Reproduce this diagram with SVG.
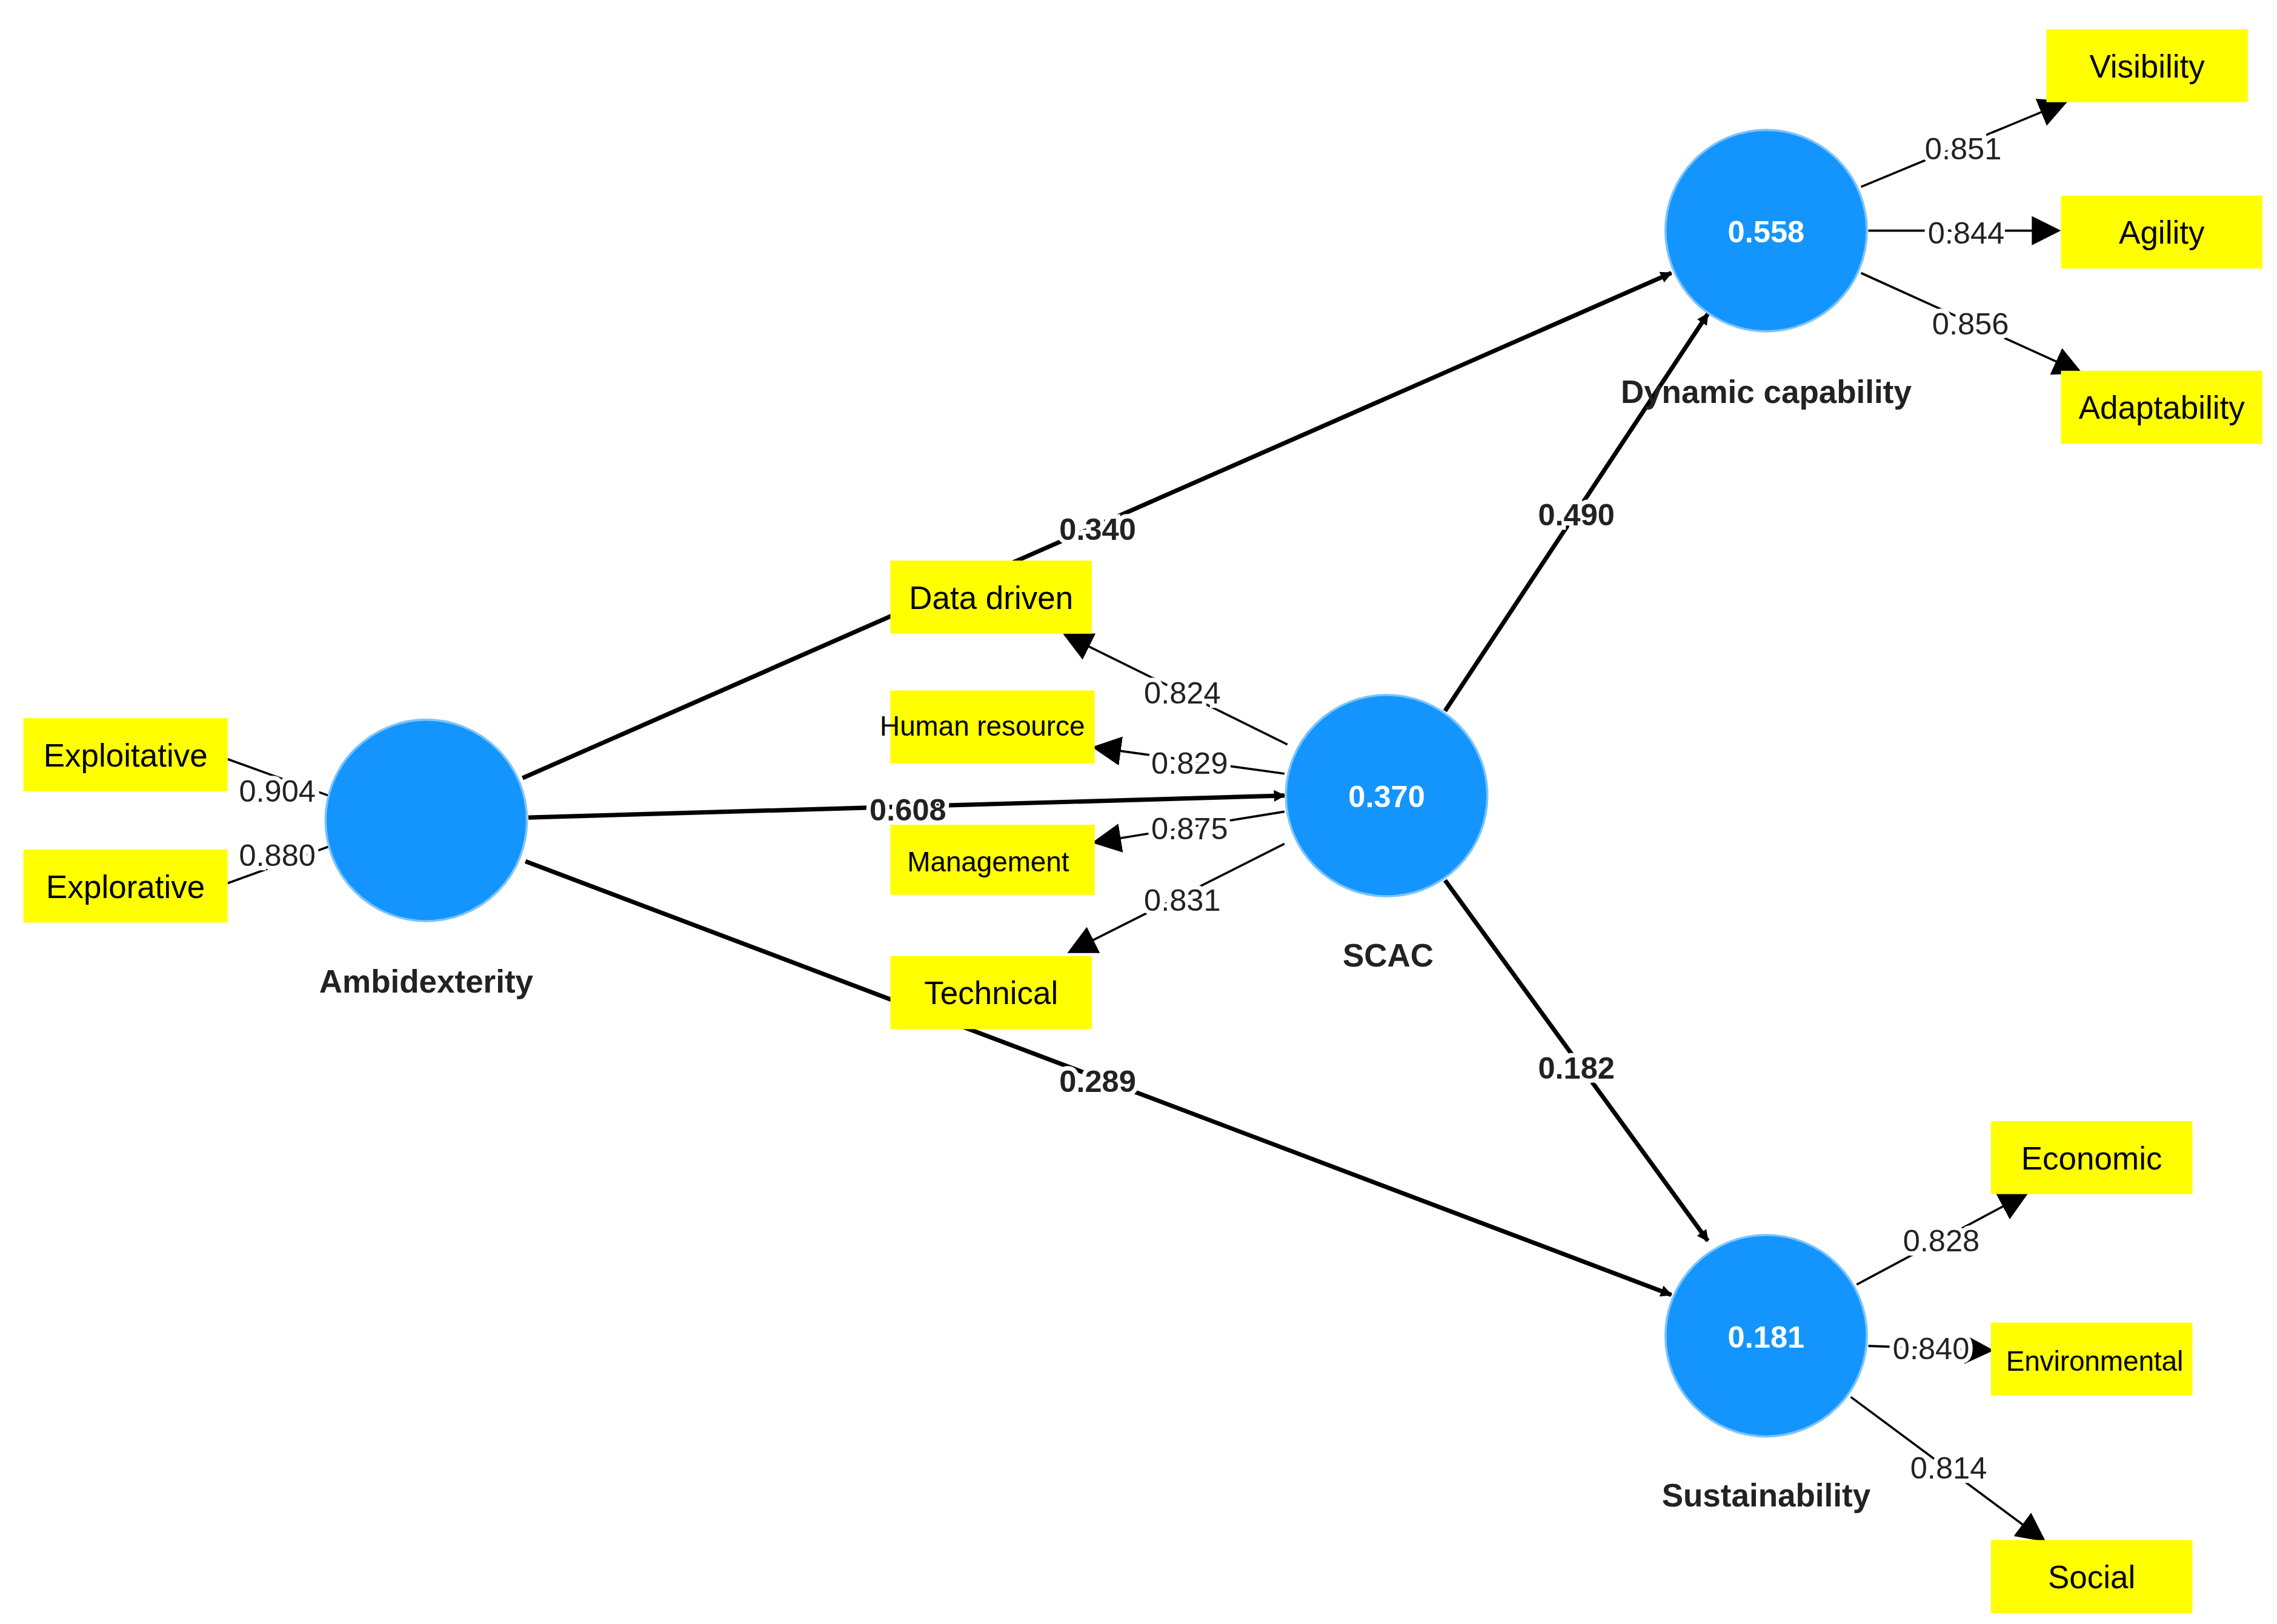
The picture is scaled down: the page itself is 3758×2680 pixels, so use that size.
<svg xmlns="http://www.w3.org/2000/svg" width="3758" height="2680" viewBox="0 0 3758 2680">
<style>
.c{fill:#1395fd;stroke:#7cc3ff;stroke-width:1.5}
.b{fill:#ffff00}
.t{font-family:"Liberation Sans",Arial,sans-serif;font-size:22px;fill:#000;text-anchor:middle}
.bt{font-family:"Liberation Sans",Arial,sans-serif;font-size:22px;font-weight:bold;fill:#222;text-anchor:middle}
.v{font-family:"Liberation Sans",Arial,sans-serif;font-size:21px;fill:#222;text-anchor:middle;paint-order:stroke;stroke:#fff;stroke-width:6px}
.vb{font-family:"Liberation Sans",Arial,sans-serif;font-size:21px;font-weight:bold;fill:#222;text-anchor:middle;paint-order:stroke;stroke:#fff;stroke-width:6px}
.w{font-family:"Liberation Sans",Arial,sans-serif;font-size:21px;font-weight:bold;fill:#fff;text-anchor:middle}
.p{stroke:#000;stroke-width:3;fill:none}
.s{stroke:#000;stroke-width:1.5;fill:none}
</style>
<defs>
<marker id="a" viewBox="0 0 10 10" refX="9" refY="5" markerWidth="8" markerHeight="8" markerUnits="userSpaceOnUse" orient="auto"><path d="M0,0L10,5L0,10z"/></marker>
<marker id="a2" viewBox="0 0 10 10" refX="9" refY="5" markerWidth="20" markerHeight="20" markerUnits="userSpaceOnUse" orient="auto"><path d="M0,0L10,5L0,10z"/></marker>
</defs>
<rect width="3758" height="2680" fill="#fff"/>
<g transform="scale(2.409)">
<g id="connectors">
<path class="p" d="M358,533L1145,187" marker-end="url(#a)"/>
<path class="p" d="M362,560L880,545" marker-end="url(#a)"/>
<path class="p" d="M360,590L1145,887" marker-end="url(#a)"/>
<path class="p" d="M990,487L1170,215" marker-end="url(#a)"/>
<path class="p" d="M990,603L1170,850" marker-end="url(#a)"/>
<path class="s" d="M225,545L156,520"/>
<path class="s" d="M225,580L156,605"/>
<path class="s" d="M882,510L730,435" marker-end="url(#a2)"/>
<path class="s" d="M880,530L750,512" marker-end="url(#a2)"/>
<path class="s" d="M880,556L750,577" marker-end="url(#a2)"/>
<path class="s" d="M880,578L733,652" marker-end="url(#a2)"/>
<path class="s" d="M1275,128L1415,70" marker-end="url(#a2)"/>
<path class="s" d="M1280,158L1410,158" marker-end="url(#a2)"/>
<path class="s" d="M1275,187L1425,255" marker-end="url(#a2)"/>
<path class="s" d="M1272,880L1388,818" marker-end="url(#a2)"/>
<path class="s" d="M1280,922L1364,925" marker-end="url(#a2)"/>
<path class="s" d="M1268,957L1400,1055" marker-end="url(#a2)"/>
<text class="vb" x="752" y="370">0.340</text>
<text class="vb" x="622" y="562">0.608</text>
<text class="vb" x="752" y="748">0.289</text>
<text class="vb" x="1080" y="360">0.490</text>
<text class="vb" x="1080" y="739">0.182</text>
<text class="v" x="190" y="549">0.904</text>
<text class="v" x="190" y="593">0.880</text>
<text class="v" x="810" y="482">0.824</text>
<text class="v" x="815" y="530">0.829</text>
<text class="v" x="815" y="575">0.875</text>
<text class="v" x="810" y="624">0.831</text>
<text class="v" x="1345" y="109">0.851</text>
<text class="v" x="1347" y="167">0.844</text>
<text class="v" x="1350" y="229">0.856</text>
<text class="v" x="1330" y="857">0.828</text>
<text class="v" x="1323" y="931">0.840</text>
<text class="v" x="1335" y="1013">0.814</text>
</g>
<g id="ambidexterity"><circle class="c" cx="292" cy="562" r="69"/><text class="bt" x="292" y="680">Ambidexterity</text></g>
<g id="scac"><circle class="c" cx="950" cy="545" r="69"/><text class="w" x="950" y="553">0.370</text><text class="bt" x="951" y="662">SCAC</text></g>
<g id="dynamic"><circle class="c" cx="1210" cy="158" r="69"/><text class="w" x="1210" y="166">0.558</text><text class="bt" x="1210" y="276">Dynamic capability</text></g>
<g id="sustainability"><circle class="c" cx="1210" cy="915" r="69"/><text class="w" x="1210" y="923">0.181</text><text class="bt" x="1210" y="1032">Sustainability</text></g>
<g id="exploitative"><rect class="b" x="16" y="492" width="140" height="50"/><text class="t" x="86" y="525">Exploitative</text></g>
<g id="explorative"><rect class="b" x="16" y="582" width="140" height="50"/><text class="t" x="86" y="615">Explorative</text></g>
<g id="datadriven"><rect class="b" x="610" y="384" width="138" height="50"/><text class="t" x="679" y="417">Data driven</text></g>
<g id="humanresource"><rect class="b" x="610" y="473" width="140" height="50"/><text class="t" x="673" y="504" style="font-size:19px">Human resource</text></g>
<g id="management"><rect class="b" x="610" y="565" width="140" height="48"/><text class="t" x="677" y="597" style="font-size:19px">Management</text></g>
<g id="technical"><rect class="b" x="610" y="655" width="138" height="50"/><text class="t" x="679" y="688">Technical</text></g>
<g id="visibility"><rect class="b" x="1402" y="20" width="138" height="50"/><text class="t" x="1471" y="53">Visibility</text></g>
<g id="agility"><rect class="b" x="1412" y="134" width="138" height="50"/><text class="t" x="1481" y="167">Agility</text></g>
<g id="adaptability"><rect class="b" x="1412" y="254" width="138" height="50"/><text class="t" x="1481" y="287">Adaptability</text></g>
<g id="economic"><rect class="b" x="1364" y="768" width="138" height="50"/><text class="t" x="1433" y="801">Economic</text></g>
<g id="environmental"><rect class="b" x="1364" y="906" width="138" height="50"/><text class="t" x="1435" y="939" style="font-size:19px">Environmental</text></g>
<g id="social"><rect class="b" x="1364" y="1055" width="138" height="50"/><text class="t" x="1433" y="1088">Social</text></g>
</g>
</svg>
